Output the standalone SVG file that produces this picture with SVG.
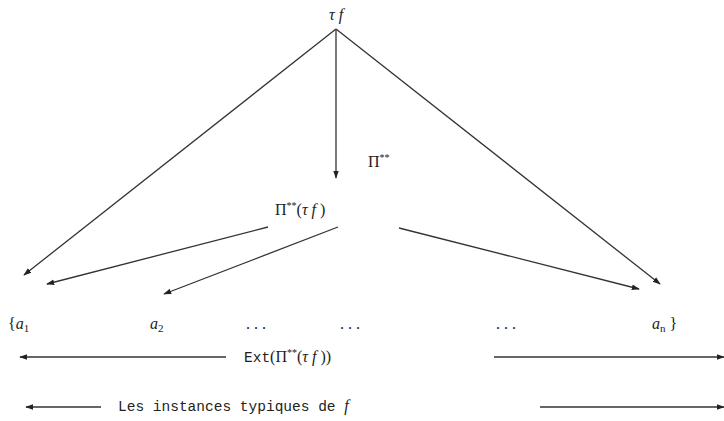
<svg xmlns="http://www.w3.org/2000/svg" width="724" height="421" viewBox="0 0 724 421">
<style>
.ln{stroke:#333;stroke-width:1.3;fill:none}
.m{font-family:"Liberation Serif",serif;font-style:italic;font-size:16px;fill:#222}
.r{font-family:"Liberation Serif",serif;font-size:16px;fill:#222}
.tt{font-family:"Liberation Mono",monospace;font-size:14.5px;fill:#222}
.sup{font-size:10px}
.sub{font-size:11px;font-style:normal}
</style>
<defs>
<marker id="ah" viewBox="0 0 10 10" refX="9" refY="5" markerWidth="8" markerHeight="8" markerUnits="userSpaceOnUse" orient="auto">
<path d="M0,1.5 L10,5 L0,8.5 Z" fill="#222"/>
</marker>
</defs>
<g id="connectors">
<line class="ln" x1="336" y1="29" x2="24" y2="275" marker-end="url(#ah)"/>
<line class="ln" x1="336" y1="29" x2="660" y2="284" marker-end="url(#ah)"/>
<line class="ln" x1="336" y1="29" x2="336" y2="178" marker-end="url(#ah)"/>
<line class="ln" x1="268" y1="227" x2="47" y2="284" marker-end="url(#ah)"/>
<line class="ln" x1="338" y1="227" x2="164" y2="294" marker-end="url(#ah)"/>
<line class="ln" x1="399" y1="228" x2="639" y2="289" marker-end="url(#ah)"/>
<line class="ln" x1="226" y1="357" x2="20" y2="357" marker-end="url(#ah)"/>
<line class="ln" x1="494" y1="357" x2="724" y2="357" marker-end="url(#ah)"/>
<line class="ln" x1="101" y1="407" x2="26" y2="407" marker-end="url(#ah)"/>
<line class="ln" x1="540" y1="407" x2="724" y2="407" marker-end="url(#ah)"/>
</g>
<g id="tf"><text class="m" x="336" y="20" text-anchor="middle">τ f</text></g>
<g id="pi-label"><text class="r" x="368" y="167">Π<tspan class="sup" dy="-6">**</tspan></text></g>
<g id="pi-tf"><text class="r" x="275" y="215">Π<tspan class="sup" dy="-6">**</tspan><tspan dy="6">(</tspan><tspan font-style="italic">τ f </tspan>)</text></g>
<g id="a1"><text class="m" x="8" y="329"><tspan font-style="normal">{</tspan>a<tspan class="sub" dy="3">1</tspan></text></g>
<g id="a2"><text class="m" x="150" y="329">a<tspan class="sub" dy="3">2</tspan></text></g>
<g id="dots1"><text class="r" x="256" y="329" text-anchor="middle">. . .</text></g>
<g id="dots2"><text class="r" x="350" y="329" text-anchor="middle">. . .</text></g>
<g id="dots3"><text class="r" x="506" y="329" text-anchor="middle">. . .</text></g>
<g id="an"><text class="m" x="652" y="329">a<tspan class="sub" dy="3" font-style="italic">n</tspan><tspan dy="-3" font-style="normal"> }</tspan></text></g>
<g id="ext"><text x="244" y="362"><tspan class="tt">Ext</tspan><tspan class="r">(Π</tspan><tspan class="r sup" dy="-6">**</tspan><tspan class="r" dy="6">(</tspan><tspan class="m">τ f </tspan><tspan class="r">))</tspan></text></g>
<g id="instances"><text x="118" y="411"><tspan class="tt">Les instances typiques de </tspan><tspan class="m">f</tspan></text></g>
</svg>
